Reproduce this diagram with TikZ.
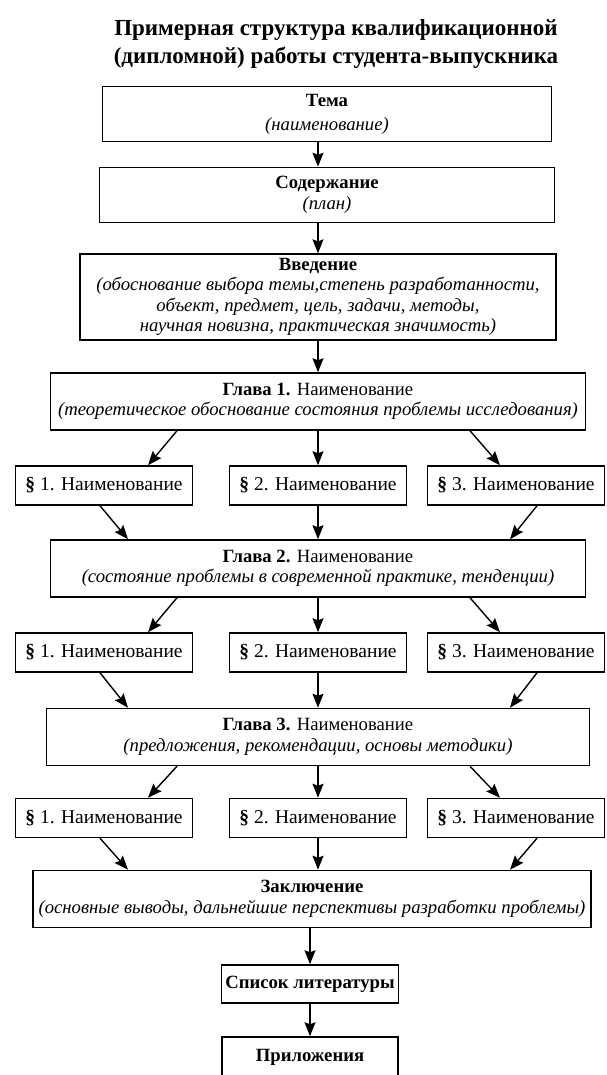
\documentclass[tikz,border=0pt]{standalone}
\usepackage{fontspec}
\setmainfont{Liberation Serif}
\usetikzlibrary{positioning,calc,arrows.meta}
\tikzset{
  block/.style={draw, line width=1.5pt, align=center, inner sep=4pt,
    font=\fontsize{18.7}{20.5}\selectfont},
  topbox/.style={block, minimum width=#1, minimum height=55pt},
  chapter/.style={block, minimum width=#1, minimum height=57pt},
  parbox/.style={block, minimum width=177pt, minimum height=39pt,
    font=\fontsize{19.5}{21}\selectfont},
  endbox/.style={block, minimum width=176pt, minimum height=38pt},
  arr/.style={->, line width=1.4pt},
}

\begin{document}
\begin{tikzpicture}[x=1pt,y=-1pt,on grid,node distance=80pt,
    >={Stealth[length=14pt,width=11pt,inset=2pt]}]
    \useasboundingbox (0,0) rectangle (606,1075);
    \node[font=\bfseries\fontsize{23}{28}\selectfont, align=center] (title) at (336,44)
        {Примерная структура квалификационной\\(дипломной) работы студента-выпускника};

    \node[topbox=449pt, font=\fontsize{18.7}{24}\selectfont] (tema) at (327,114)
        {\textbf{Тема}\\\textit{(наименование)}};
    \node[topbox=455pt] (soder) [below=81pt of tema] {\textbf{Содержание}\\\textit{(план)}};
    \node[topbox=476pt] (vved) [below=102pt of soder, xshift=-9pt]
        {\textbf{Введение}\\\textit{(обоснование выбора темы,степень разработанности,}\\
         \textit{объект, предмет, цель, задачи, методы,}\\
         \textit{научная новизна, практическая значимость)}};

    % chapter 1
    \node[chapter=535pt] (gl1) [below=104.5pt of vved]
        {\textbf{Глава 1.} Наименование\\\textit{(теоретическое обоснование состояния проблемы исследования)}};
    \node[parbox] (p11) [below left=84pt and 214pt of gl1] {\textbf{§} 1. Наименование};
    \node[parbox] (p12) [below=84pt of gl1] {\textbf{§} 2. Наименование};
    \node[parbox] (p13) [below right=84pt and 198pt of gl1] {\textbf{§} 3. Наименование};

    % chapter 2
    \node[chapter=535pt] (gl2) [below=83pt of p12]
        {\textbf{Глава 2.} Наименование\\\textit{(состояние проблемы в современной практике, тенденции)}};
    \node[parbox] (p21) [below left=84pt and 214pt of gl2] {\textbf{§} 1. Наименование};
    \node[parbox] (p22) [below=84pt of gl2] {\textbf{§} 2. Наименование};
    \node[parbox] (p23) [below right=84pt and 198pt of gl2] {\textbf{§} 3. Наименование};

    % chapter 3
    \node[chapter=543pt] (gl3) [below=84.5pt of p22]
        {\textbf{Глава 3.} Наименование\\\textit{(предложения, рекомендации, основы методики)}};
    \node[parbox] (p31) [below left=81pt and 214pt of gl3] {\textbf{§} 1. Наименование};
    \node[parbox] (p32) [below=81pt of gl3] {\textbf{§} 2. Наименование};
    \node[parbox] (p33) [below right=81pt and 198pt of gl3] {\textbf{§} 3. Наименование};

    \node[chapter=558pt] (zakl) [below=81pt of p32, xshift=-6pt]
        {\textbf{Заключение}\\\textit{(основные выводы, дальнейшие перспективы разработки проблемы)}};
    \node[endbox] (spisok) [below=85pt of zakl, xshift=-2pt] {\textbf{Список литературы}};
    \node[endbox, minimum height=40pt] (pril) [below=73pt of spisok] {\textbf{Приложения}};

    \draw[arr] (tema.south -| gl1) -- (soder.north -| gl1);
    \draw[arr] (soder.south -| gl1) -- (vved.north -| gl1);
    \draw[arr] (vved) -- (gl1);

    \draw[arr] ([xshift=-141pt]gl1.south) -- ([xshift=44pt]p11.north);
    \draw[arr] (gl1) -- (p12);
    \draw[arr] ([xshift=152pt]gl1.south) -- ([xshift=-16pt]p13.north);
    \draw[arr] ([xshift=-4pt]p11.south) -- ([xshift=-190pt]gl2.north);
    \draw[arr] (p12) -- (gl2);
    \draw[arr] ([xshift=21pt]p13.south) -- ([xshift=192pt]gl2.north);

    \draw[arr] ([xshift=-141pt]gl2.south) -- ([xshift=44pt]p21.north);
    \draw[arr] (gl2) -- (p22);
    \draw[arr] ([xshift=152pt]gl2.south) -- ([xshift=-16pt]p23.north);
    \draw[arr] ([xshift=-4pt]p21.south) -- ([xshift=-190pt]gl3.north);
    \draw[arr] (p22) -- (gl3);
    \draw[arr] ([xshift=21pt]p23.south) -- ([xshift=192pt]gl3.north);

    \draw[arr] ([xshift=-141pt]gl3.south) -- ([xshift=44pt]p31.north);
    \draw[arr] (gl3) -- (p32);
    \draw[arr] ([xshift=152pt]gl3.south) -- ([xshift=-16pt]p33.north);
    \draw[arr] ([xshift=-4pt]p31.south) -- ([xshift=-184pt]zakl.north);
    \draw[arr] (p32.south) -- (p32.south |- zakl.north);
    \draw[arr] ([xshift=21pt]p33.south) -- ([xshift=198pt]zakl.north);

    \draw[arr] (zakl.south -| spisok) -- (spisok);
    \draw[arr] (spisok) -- (pril);
\end{tikzpicture}
\end{document}
